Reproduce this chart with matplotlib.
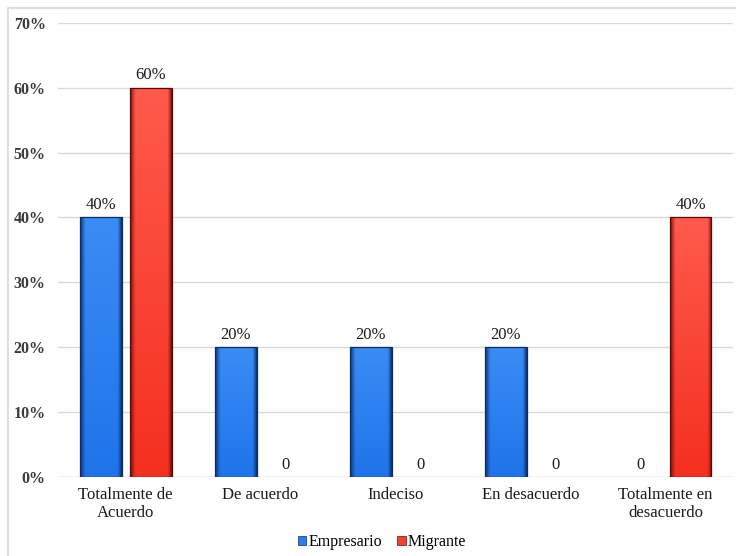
import numpy as np
import matplotlib
matplotlib.use("Agg")
from matplotlib import pyplot as plt
from matplotlib.colors import to_rgb
from matplotlib.patches import Rectangle

categorias = ["Totalmente de\nAcuerdo", "De acuerdo", "Indeciso", "En desacuerdo", "Totalmente en\ndesacuerdo"]
empresario = [0.40, 0.20, 0.20, 0.20, 0.0]
migrante = [0.60, 0.0, 0.0, 0.0, 0.40]
series = ["Empresario", "Migrante"]

plt.rcParams['font.family'] = ['Liberation Serif', 'DejaVu Serif']

# colores: (arriba, abajo, borde)
col_azul = ("#3a8cf5", "#1f74ea", "#0b2c66")
col_rojo = ("#ff5a4c", "#f5301f", "#6e0c08")


def textura(colores, n=80):
    arriba, abajo, borde = (np.array(to_rgb(c)) for c in colores)
    xs = np.linspace(0, 1, n)
    ys = np.linspace(0, 1, n)
    # bordes oscuros, centro casi plano
    perfil = np.minimum(np.minimum(xs / 0.13, (1 - xs) / 0.10), 1.0) ** 0.8
    base = abajo[None, :] * (1 - ys[:, None]) + arriba[None, :] * ys[:, None]
    t = perfil[None, :, None]
    img = base[:, None, :] * t + borde[None, None, :] * (1 - t)
    return np.clip(img, 0, 1)


tex_azul = textura(col_azul)
tex_rojo = textura(col_rojo)


def barra(ax, x, w, h, tex, borde):
    if h <= 0:
        return
    im = ax.imshow(tex, aspect="auto", extent=(x - w / 2, x + w / 2, 0, h),
                   origin="lower", zorder=2, interpolation="bilinear")
    rect = Rectangle((x - w / 2, 0), w, h, fill=False, edgecolor=borde, linewidth=0.9, zorder=3)
    ax.add_patch(rect)
    im.set_clip_path(rect)


fig = plt.figure(figsize=(7.36, 5.56), dpi=100)
ax = fig.add_axes([0.079, 0.142, 0.917, 0.817])

x = np.arange(len(categorias))
ancho = 0.31
desp = 0.185

for i in range(len(categorias)):
    barra(ax, x[i] - desp, ancho, empresario[i], tex_azul, "#0b2c66")
    barra(ax, x[i] + desp, ancho, migrante[i], tex_rojo, "#5a0a06")

for i in range(len(categorias)):
    for xv, v in ((x[i] - desp, empresario[i]), (x[i] + desp, migrante[i])):
        txt = "0" if v == 0 else f"{v * 100:.0f}%"
        ax.text(xv, v + 0.007, txt, ha="center", va="bottom", fontsize=12, color="#1a1a1a")

ax.set_xlim(-0.5, len(categorias) - 0.5)
ax.set_ylim(0, 0.7)
ticks = np.arange(0, 0.71, 0.1)
ax.set_yticks(ticks)
ax.set_yticklabels([f"{t * 100:.0f}%" for t in ticks], fontsize=11.5, fontweight="bold", color="#3a3a3a")
ax.set_xticks(x)
ax.set_xticklabels(categorias, fontsize=12, color="#1a1a1a", linespacing=1.15)
ax.tick_params(axis="both", length=0)
ax.tick_params(axis="y", pad=9)
ax.tick_params(axis="x", pad=7)
ax.yaxis.grid(True, color="#d9d9d9", linewidth=1.0)
ax.set_axisbelow(True)
for s in ax.spines.values():
    s.set_visible(False)
ax.axhline(0, color="#d9d9d9", linewidth=1.0, zorder=1)

handles = [Rectangle((0, 0), 1, 1, facecolor="#2a7ff0", edgecolor="#0b2c66", linewidth=0.5),
           Rectangle((0, 0), 1, 1, facecolor="#f5402f", edgecolor="#6e0c08", linewidth=0.5)]
fig.legend(handles, series, loc="center", bbox_to_anchor=(0.519, 0.025), ncol=2, frameon=False,
           fontsize=11.5, handlelength=0.55, handleheight=0.55, handletextpad=0.15, columnspacing=0.9)

# marco exterior del gráfico
fig.patches.append(Rectangle((0.011, -0.01), 1.0, 0.996, transform=fig.transFigure, fill=False,
                             edgecolor="#d9d9d9", linewidth=1.2))

fig.savefig("out.png", dpi=100)
